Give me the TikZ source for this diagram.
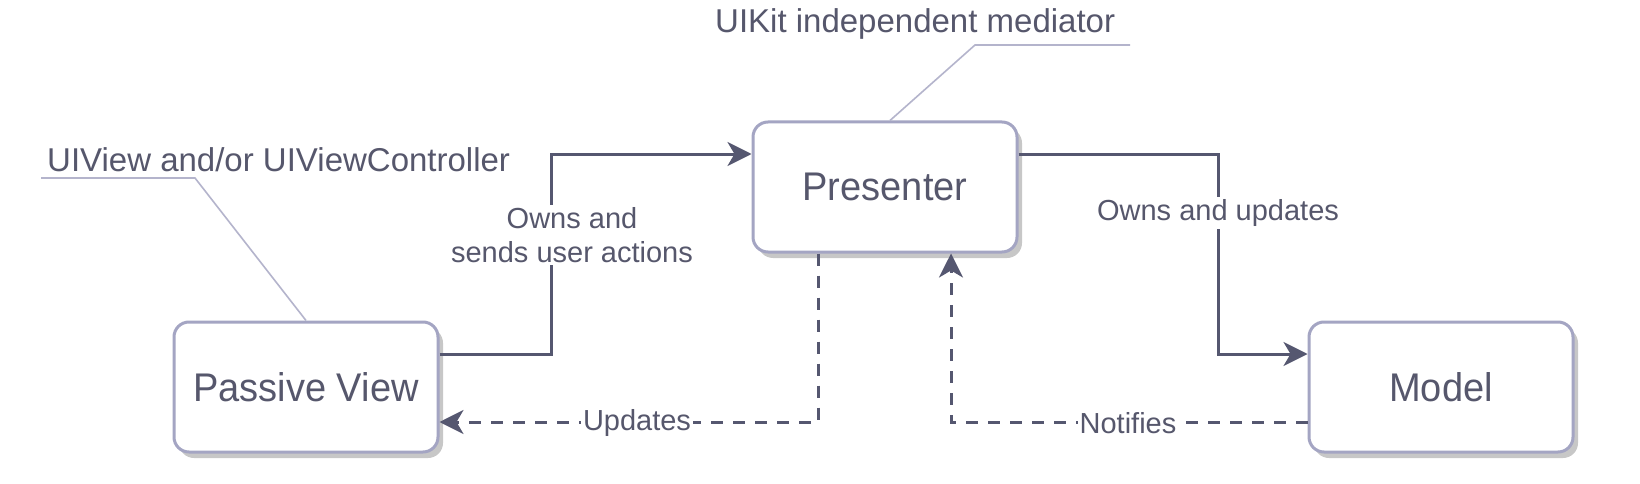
\documentclass[tikz,border=0pt]{standalone}
\usepackage{fontspec}
\setmainfont{Liberation Sans}
\newfontfamily\boxfont{Liberation Sans}[FakeStretch=0.95]
\usetikzlibrary{arrows.meta,shadows}
\definecolor{ink}{HTML}{555770}
\definecolor{txt}{HTML}{56576C}
\definecolor{border}{HTML}{A4A5C3}
\definecolor{noteline}{HTML}{B4B4CC}
\begin{document}
\begin{tikzpicture}[x=1pt,y=-1pt,
  box/.style={draw=border, line width=3pt, rounded corners=15pt, fill=white,
    minimum width=264pt, minimum height=130pt, inner sep=0pt,
    font=\boxfont\fontsize{40}{48}\selectfont, text=txt,
    drop shadow={shadow xshift=5pt, shadow yshift=-6pt, fill=black, opacity=0.22}},
  conn/.style={draw=ink, line width=3pt, -{Stealth[length=24pt,width=24pt,inset=7pt]}},
  dconn/.style={conn, dash pattern=on 12pt off 10pt},
  lbl/.style={fill=white, text=txt, font=\fontsize{29}{34}\selectfont, inner sep=2pt, align=center},
  note/.style={text=txt, font=\fontsize{33}{40}\selectfont, inner sep=0pt, anchor=west},
  noteln/.style={draw=noteline, line width=1.6pt}
]
\fill[white] (0,0) rectangle (1640,484);
\useasboundingbox (0,0) rectangle (1640,484);

% boxes
\node[box] (pv) at (306,387) {Passive View};
\node[box] (pr) at (885,187) {Presenter};
\node[box] (md) at (1441,387) {Model};

% annotations
\node[note] (n1) at (47,160) {UIView and/or UIViewController};
\coordinate (n1a) at (41,178);
\coordinate (n1b) at (195,178);
\draw[noteln] (n1a) -- (n1b) -- (pv.north);

\node[note] (n2) at (715,24) {UIKit independent mediator};
\coordinate (n2a) at (1130,45);
\coordinate (n2b) at (975,45);
\draw[noteln] (n2a) -- (n2b) -- ([xshift=5pt]pr.north);

% connectors
\coordinate (c1) at (551,235);
\draw[conn] ([yshift=33pt]pv.east) -| (c1) |- ([yshift=33pt]pr.west);
\node[lbl] (l1) at (572,235) {Owns and\\sends user actions};

\coordinate (c2) at (1218,213);
\draw[conn] ([yshift=33pt]pr.east) -| (c2) |- ([yshift=33pt]md.west);
\node[lbl] (l2) at (c2) {Owns and updates};

\draw[dconn] ([xshift=-67pt]pr.south) |- ([yshift=-35pt]pv.east);
\node[lbl] (l3) at (637,423) {Updates};

\draw[dconn] ([yshift=-35pt]md.west) -| ([xshift=66pt]pr.south);
\node[lbl] (l4) at (1128,423) {Notifies};
\end{tikzpicture}
\end{document}
